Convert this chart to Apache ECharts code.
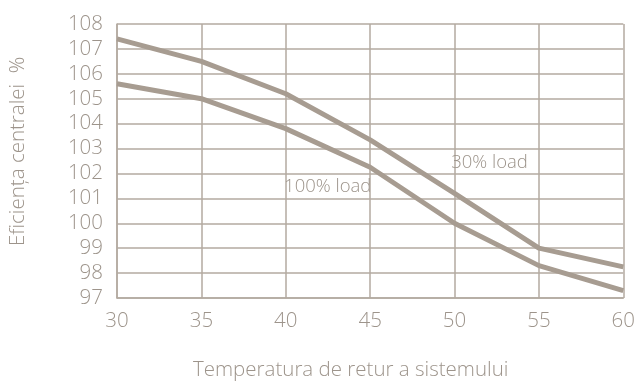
<!DOCTYPE html>
<html><head><meta charset="utf-8">
<script src="https://cdn.jsdelivr.net/npm/echarts@6/dist/echarts.min.js"></script>
<style>html,body{margin:0;padding:0;background:#fff}#c{width:638px;height:385px}</style>
</head><body><div id="c"></div>
<script>
const temps = [30, 35, 40, 45, 50, 55, 60];
const load30 = [107.4, 106.5, 105.2, 103.35, 101.2, 99.0, 98.25];
const load100 = [105.6, 105.0, 103.8, 102.25, 100.0, 98.3, 97.3];
const labels = [{text: '30% load', x: 49.8, y: 102.45}, {text: '100% load', x: 39.9, y: 101.45}];
const xName = 'Temperatura de retur a sistemului';
const yName = 'Eficiența centralei  %';

const lineColor = '#a79c91';
const gridColor = '#b3aaa0';
const textColor = '#9d948b';
const font = '"Open Sans", Lato, sans-serif';

const chart = echarts.init(document.getElementById('c'));
const mk = (arr) => temps.map((t, i) => [t, arr[i]]);
chart.setOption({
  animation: false,
  grid: {left: 117, right: 14, top: 24, bottom: 87},
  xAxis: {
    type: 'value', min: 30, max: 60, interval: 5,
    axisLine: {show: true, lineStyle: {color: gridColor, width: 1.5}},
    axisTick: {show: false},
    splitLine: {show: true, lineStyle: {color: gridColor, width: 1.5}},
    axisLabel: {color: textColor, fontSize: 20.5, fontFamily: font, fontWeight: 300, margin: 13}
  },
  yAxis: {
    type: 'value', min: 97, max: 108, interval: 1,
    axisLine: {show: true, lineStyle: {color: gridColor, width: 1.5}},
    axisTick: {show: false},
    splitLine: {show: true, lineStyle: {color: gridColor, width: 1.5}},
    axisLabel: {color: textColor, fontSize: 20.5, fontFamily: font, fontWeight: 300, margin: 14}
  },
  graphic: [
    {type: 'text', x: 193, y: 360, style: {text: xName, fill: textColor, fontSize: 20.5, fontFamily: font, fontWeight: 300}},
    {type: 'text', x: 8, y: 246, rotation: Math.PI / 2, style: {text: yName, fill: textColor, fontSize: 20.5, fontFamily: font, fontWeight: 300}}
  ],
  series: [
    {type: 'line', data: mk(load30), symbol: 'none', lineStyle: {color: lineColor, width: 5},
     markPoint: {symbolSize: 0, data: [{coord: [labels[0].x, labels[0].y], label: {show: true, formatter: labels[0].text, position: 'right', distance: 0, color: textColor, fontSize: 18.5, fontFamily: font, fontWeight: 300}}]}},
    {type: 'line', data: mk(load100), symbol: 'none', lineStyle: {color: lineColor, width: 5},
     markPoint: {symbolSize: 0, data: [{coord: [labels[1].x, labels[1].y], label: {show: true, formatter: labels[1].text, position: 'right', distance: 0, color: textColor, fontSize: 18.5, fontFamily: font, fontWeight: 300}}]}}
  ]
});
</script></body></html>
